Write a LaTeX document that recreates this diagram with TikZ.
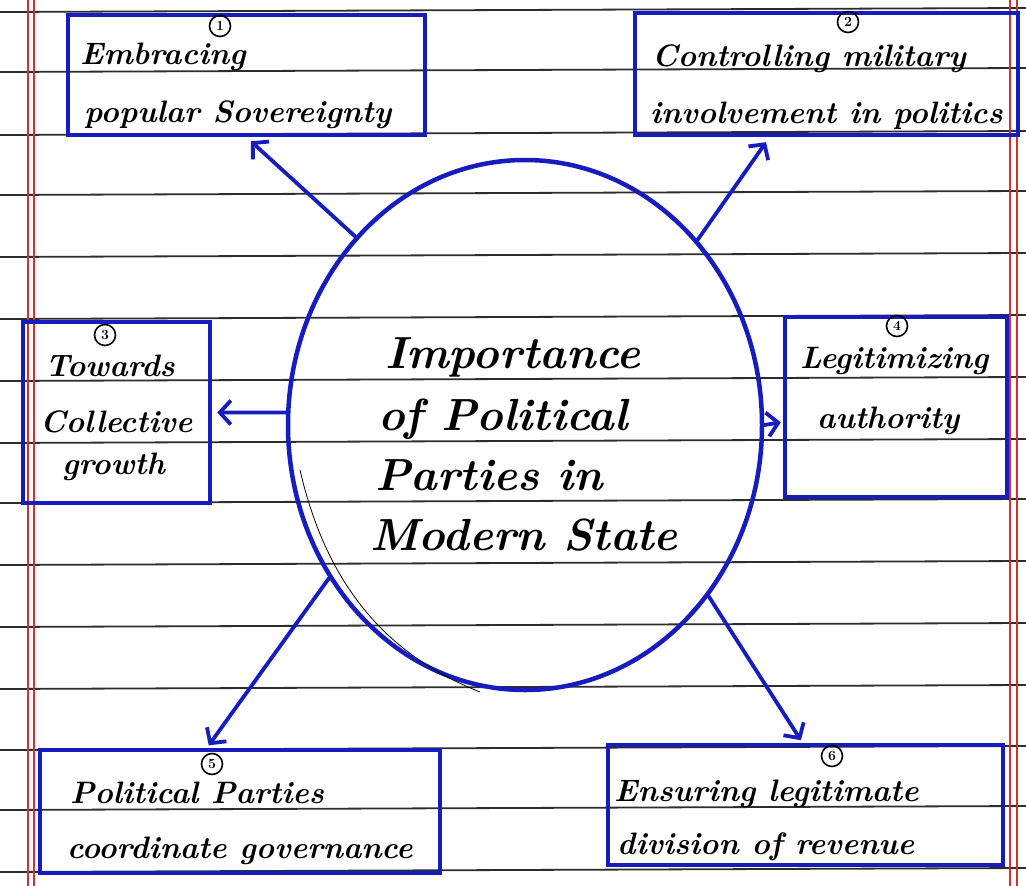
\documentclass[tikz,border=0pt]{standalone}
\usetikzlibrary{arrows.meta,shapes.geometric}
\definecolor{ink}{RGB}{22,28,190}
\definecolor{rulecol}{RGB}{45,45,45}
\definecolor{margincol}{RGB}{210,50,50}
\begin{document}
\begin{tikzpicture}[x=1pt,y=-1pt,
  box/.style={draw=ink,line width=4.5pt,inner sep=0pt,rectangle},
  hub/.style={draw=ink,line width=4.5pt,inner sep=0pt,ellipse,minimum width=474pt,minimum height=530pt},
  arr/.style={draw=ink,line width=3.8pt,line cap=round,-{Straight Barb[length=11pt,width=24pt]}},
  numc/.style={circle,draw=black,line width=1.6pt,inner sep=0pt,minimum size=21pt,font=\fontsize{14}{14}\selectfont\bfseries},
  tx/.style={anchor=base west,inner sep=0pt,font=\fontsize{31}{31}\selectfont\bfseries\itshape},
  ctx/.style={anchor=base west,inner sep=0pt,font=\fontsize{45}{45}\selectfont\bfseries\itshape}]
\useasboundingbox (0,0) rectangle (1026,886);
\fill[white] (0,0) rectangle (1026,886);
% ruled paper
\foreach \y in {12,72,135,195,257,319,381,443,503,565,627,689,750,810,872}
  \draw[rulecol,line width=1.8pt] (0,\y) -- (1026,\y-4);
\foreach \x in {28,34,1010,1017}
  \draw[margincol,line width=1.1pt] (\x,0) -- (\x,886);
% boxes
\node[box,minimum width=357pt,minimum height=120pt] (b1) at (246.5,75) {};
\node[box,minimum width=383pt,minimum height=122pt] (b2) at (826.5,74) {};
\node[box,minimum width=187pt,minimum height=181pt] (b3) at (116.5,412.5) {};
\node[box,minimum width=222pt,minimum height=180pt] (b4) at (896,407) {};
\node[box,minimum width=400pt,minimum height=123pt] (b5) at (240,811.5) {};
\node[box,minimum width=395pt,minimum height=120pt] (b6) at (805.5,805) {};
% hub
\node[hub] (c) at (525,425) {};
\draw[black,line width=0.8pt] (300,470) .. controls (330,600) and (400,660) .. (480,692);
% texts
\node[tx] (t1a) at (80,64) {Embracing};
\node[tx] (t1b) at (84,122) {popular Sovereignty};
\node[tx] (t2a) at (652,66) {Controlling military};
\node[tx] (t2b) at (650,123) {involvement in politics};
\node[tx] (t3a) at (45,376) {Towards};
\node[tx] (t3b) at (40,432) {Collective};
\node[tx] (t3c) at (62,474) {growth};
\node[tx] (t4a) at (800,368) {Legitimizing};
\node[tx] (t4b) at (817,428) {authority};
\node[tx] (t5a) at (70,803) {Political Parties};
\node[tx] (t5b) at (67,858) {coordinate governance};
\node[tx] (t6a) at (614,801) {Ensuring legitimate};
\node[tx] (t6b) at (617,854) {division of revenue};
\node[ctx] (h1) at (385,368) {Importance};
\node[ctx] (h2) at (378,430) {of Political};
\node[ctx] (h3) at (375,490) {Parties in};
\node[ctx] (h4) at (370,550) {Modern State};
% numbers
\node[numc] (n1) at (220,26) {1};
\node[numc] (n2) at (848,22) {2};
\node[numc] (n3) at (105,335) {3};
\node[numc] (n4) at (897,326) {4};
\node[numc] (n5) at (212,764) {5};
\node[numc] (n6) at (832,756) {6};
% connectors
\draw[arr,shorten >=6pt] (c.132.8) -- (b1.south);
\draw[arr,shorten >=6pt] (c.47.6) -- ([xshift=-57pt]b2.south);
\draw[arr,shorten >=5pt] (c.177.6) -- (b3.east);
\draw[arr,shorten >=2pt] (c.-0.5) -- ([yshift=-15pt]b4.west);
\draw[arr,shorten >=3pt] (c.218.6) -- ([xshift=-33pt]b5.north);
\draw[arr,shorten >=3pt] (c.-43) -- ([xshift=-3pt]b6.north);
\end{tikzpicture}
\end{document}
